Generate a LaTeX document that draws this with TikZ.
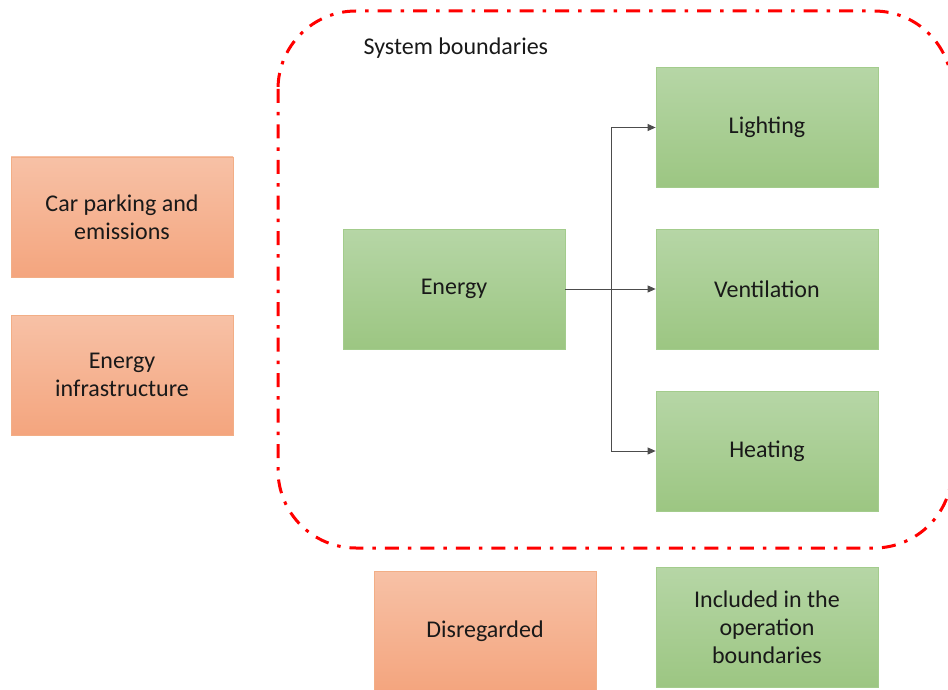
\documentclass[tikz,border=0pt]{standalone}
\usepackage{fontspec}
\setmainfont{Carlito}
\usetikzlibrary{arrows.meta}
\definecolor{orgTop}{HTML}{F7C1A6}
\definecolor{orgBot}{HTML}{F4A57E}
\definecolor{orgLine}{HTML}{F2AE86}
\definecolor{grnTop}{HTML}{B6D6A6}
\definecolor{grnBot}{HTML}{9CC682}
\definecolor{grnLine}{HTML}{A3CC8C}
\tikzset{
  box/.style={minimum width=222pt, minimum height=120pt, inner sep=0pt, align=center, font=\fontsize{24}{28}\selectfont, text=black!90, line width=0.8pt},
  orgbox/.style={box, draw=orgLine, top color=orgTop, bottom color=orgBot},
  grnbox/.style={box, draw=grnLine, top color=grnTop, bottom color=grnBot},
  conn/.style={draw=black!70, line width=0.8pt},
  arr/.style={conn, -{Triangle[length=8pt,width=7pt]}}
}
\begin{document}
\begin{tikzpicture}[x=1pt,y=-1pt]
\useasboundingbox (0,0) rectangle (948,690);
\begin{scope}
\clip (0,0) rectangle (948,690);
\draw[red, line width=3pt, dash pattern=on 14pt off 9pt on 3.5pt off 9pt, rounded corners=78pt] (278,11) rectangle (952,548);
\end{scope}
\node[anchor=west, font=\fontsize{24}{28}\selectfont, text=black!90] (sb) at (360,48) {System boundaries};
\node[orgbox] (car) at (122,217) {Car parking and\\emissions};
\node[orgbox] (inf) at (122,375) {Energy\\infrastructure};
\node[grnbox] (en) at (454,289) {Energy};
\node[grnbox] (li) at (767,127.5) {Lighting};
\node[grnbox] (ve) at (767,289) {Ventilation};
\node[grnbox] (he) at (767,451) {Heating};
\node[orgbox] (dis) at (485,631) {Disregarded};
\node[grnbox] (inc) at (767,627) {Included in the\\operation\\boundaries};
\coordinate (j) at (611,289);
\draw[arr] (en.east) -- (ve.west);
\draw[arr] (j) |- (li.west);
\draw[arr] (j) |- (he.west);
\end{tikzpicture}
\end{document}
